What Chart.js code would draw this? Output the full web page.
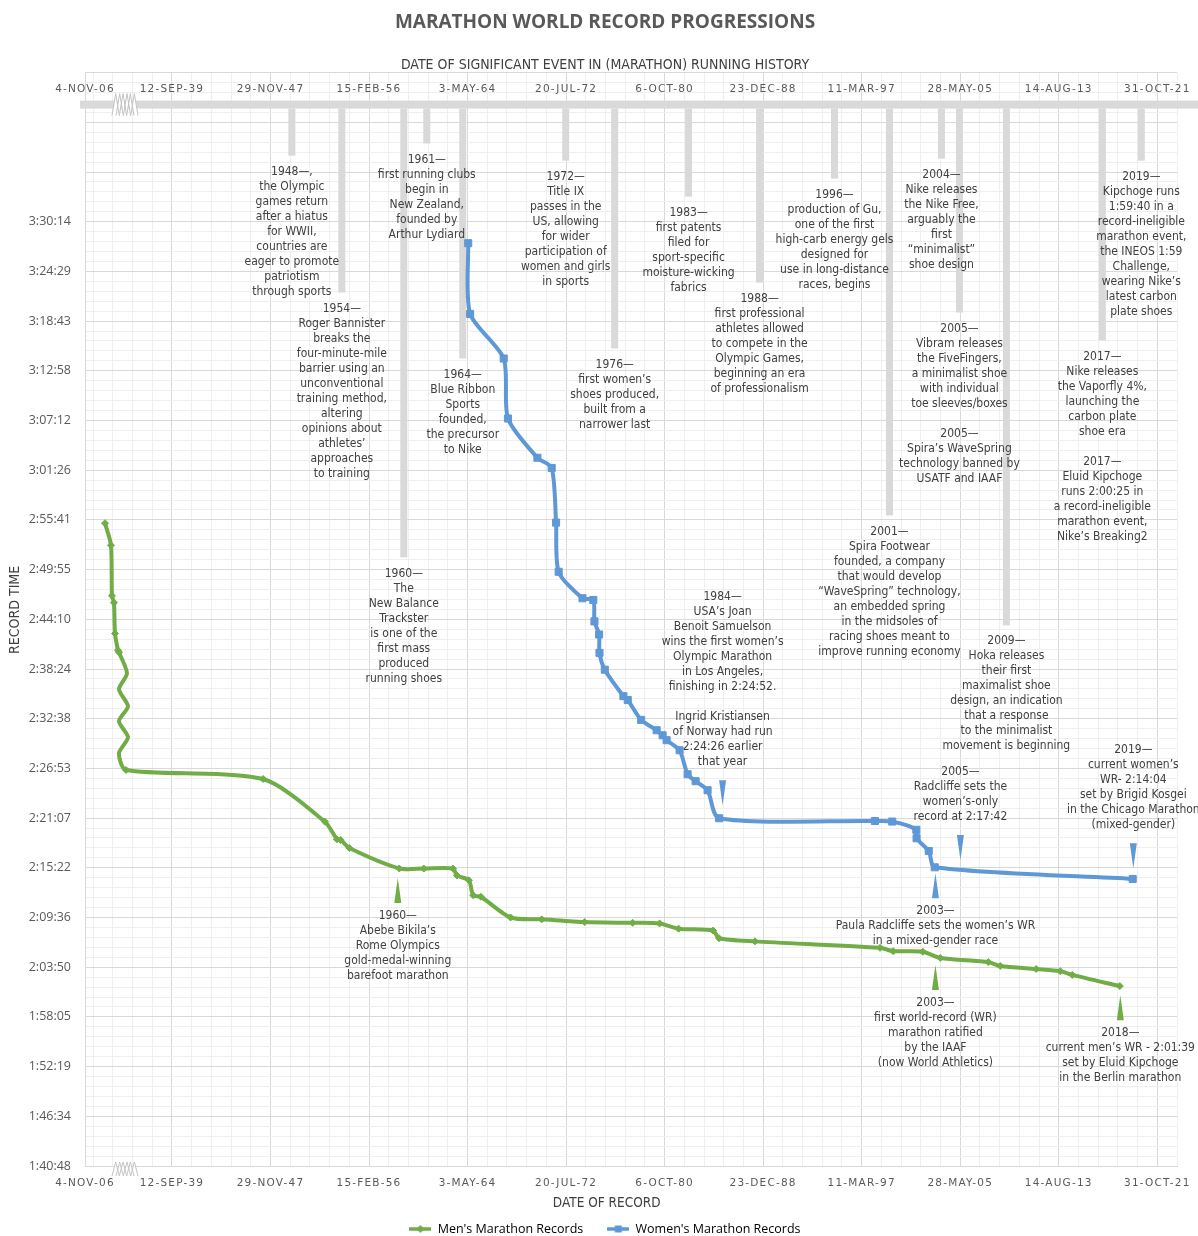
<!DOCTYPE html>
<html>
<head>
<meta charset="utf-8">
<title>Marathon World Record Progressions</title>
<script src="https://cdn.jsdelivr.net/npm/chart.js@4.4.1/dist/chart.umd.min.js"></script>
<style>
  html, body { margin: 0; padding: 0; background: #fff; }
  #wrap { width: 1198px; height: 1236px; }
</style>
</head>
<body>
<div id="wrap"><canvas id="recordChart" width="1198" height="1236"></canvas></div>
<script>
// x values are Excel date serials (14500 = 12-Sep-39, one major step = 3000 days).
// The stretch before 1939 sits on a broken axis, so those are axis serials.
var xTickValues = [11853, 14500, 17500, 20500, 23500, 26500, 29500, 32500, 35500, 38500, 41500, 44500];
var xTickLabels = ['4-NOV-06', '12-SEP-39', '29-NOV-47', '15-FEB-56', '3-MAY-64', '20-JUL-72',
                   '6-OCT-80', '23-DEC-88', '11-MAR-97', '28-MAY-05', '14-AUG-13', '31-OCT-21'];

// y axis: 0.070 day to 0.158 day in steps of 0.004 day (labels stop at 3:30:14)
var yTickLabels = ['1:40:48', '1:46:34', '1:52:19', '1:58:05', '2:03:50', '2:09:36', '2:15:22',
                   '2:21:07', '2:26:53', '2:32:38', '2:38:24', '2:44:10', '2:49:55', '2:55:41',
                   '3:01:26', '3:07:12', '3:12:58', '3:18:43', '3:24:29', '3:30:14'];

var menDates = [12462, 12644, 12674, 12735, 12766, 12857, 12887, 13131, 12887, 13161, 12887, 13161,
                12887, 13100, 17276, 19159, 19523, 19636, 19901, 21421, 22169, 23059, 23177, 23541,
                23671, 23905, 24809, 25758, 27066, 28526, 29348, 29926, 30976, 31157, 32250, 36058,
                36457, 37360, 37892, 39355, 39719, 40811, 41546, 41910, 43359];
var menTimes = ['2:55:18', '2:52:45', '2:46:53', '2:46:05', '2:42:31', '2:40:34', '2:40:20', '2:37:54',
                '2:36:03', '2:34:05', '2:32:21', '2:30:29', '2:28:38', '2:26:42', '2:25:39', '2:20:42',
                '2:18:40', '2:18:35', '2:17:39', '2:15:17', '2:15:16', '2:15:16', '2:14:28', '2:13:55',
                '2:12:11', '2:12:00', '2:09:36', '2:09:23', '2:09:04', '2:08:59', '2:08:55', '2:08:18',
                '2:08:05', '2:07:12', '2:06:50', '2:06:05', '2:05:42', '2:05:38', '2:04:55', '2:04:26',
                '2:03:59', '2:03:38', '2:03:23', '2:02:57', '2:01:39'];

var womenDates = [23520, 23579, 24601, 24731, 25627, 26062, 26195, 26274, 27000, 27329, 27364, 27505,
                  27517, 27679, 28246, 28378, 28785, 29257, 29439, 29561, 29956, 30200, 30443, 30808,
                  31158, 35904, 36429, 37164, 37171, 37542, 37724, 43751];
var womenTimes = ['3:27:45', '3:19:33', '3:14:23', '3:07:26', '3:02:53', '3:01:42', '2:55:22', '2:49:40',
                  '2:46:36', '2:46:24', '2:43:55', '2:42:24', '2:40:16', '2:38:19', '2:35:15', '2:34:48',
                  '2:32:30', '2:31:18', '2:30:43', '2:30:09', '2:28:59', '2:26:12', '2:25:24', '2:24:21',
                  '2:21:06', '2:20:47', '2:20:43', '2:19:46', '2:18:47', '2:17:18', '2:15:25', '2:14:04'];

// running-history timeline: date, where the hanging bar stops (on the time scale), text
var eventDates = [18151, 19672, 21559, 22259, 23354, 26488, 27979, 30230, 32391, 34672, 36346,
                  37928, 38476, 39906, 42827, 44013];
var eventEnds = ['3:37:54', '3:22:02', '2:51:20', '3:39:18', '3:14:23', '3:37:19', '3:15:33', '3:33:09',
                 '3:23:11', '3:35:14', '2:56:12', '3:37:33', '3:19:43', '2:43:28', '3:16:29', '3:37:19'];
var eventNotes = [
  ['1948\u2014,', 'the Olympic', 'games return', 'after a hiatus', 'for WWII,', 'countries are',
   'eager to promote', 'patriotism', 'through sports'],
  ['1954\u2014', 'Roger Bannister', 'breaks the', 'four-minute-mile', 'barrier using an', 'unconventional',
   'training method,', 'altering', 'opinions about', 'athletes\u2019', 'approaches', 'to training'],
  ['1960\u2014', 'The', 'New Balance', 'Trackster', 'is one of the', 'first mass', 'produced', 'running shoes'],
  ['1961\u2014', 'first running clubs', 'begin in', 'New Zealand,', 'founded by', 'Arthur Lydiard'],
  ['1964\u2014', 'Blue Ribbon', 'Sports', 'founded,', 'the precursor', 'to Nike'],
  ['1972\u2014', 'Title IX', 'passes in the', 'US, allowing', 'for wider', 'participation of',
   'women and girls', 'in sports'],
  ['1976\u2014', 'first women\u2019s', 'shoes produced,', 'built from a', 'narrower last'],
  ['1983\u2014', 'first patents', 'filed for', 'sport-specific', 'moisture-wicking', 'fabrics'],
  ['1988\u2014', 'first professional', 'athletes allowed', 'to compete in the', 'Olympic Games,',
   'beginning an era', 'of professionalism'],
  ['1996\u2014', 'production of Gu,', 'one of the first', 'high-carb energy gels', 'designed for',
   'use in long-distance', 'races, begins'],
  ['2001\u2014', 'Spira Footwear', 'founded, a company', 'that would develop', '\u201cWaveSpring\u201d technology,',
   'an embedded spring', 'in the midsoles of', 'racing shoes meant to', 'improve running economy'],
  ['2004\u2014', 'Nike releases', 'the Nike Free,', 'arguably the', 'first', '\u201cminimalist\u201d', 'shoe design'],
  ['2005\u2014', 'Vibram releases', 'the FiveFingers,', 'a minimalist shoe', 'with individual',
   'toe sleeves/boxes', '', '2005\u2014', 'Spira\u2019s WaveSpring', 'technology banned by', 'USATF and IAAF'],
  ['2009\u2014', 'Hoka releases', 'their first', 'maximalist shoe', 'design, an indication',
   'that a response', 'to the minimalist', 'movement is beginning'],
  ['2017\u2014', 'Nike releases', 'the Vaporfly 4%,', 'launching the', 'carbon plate', 'shoe era', '',
   '2017\u2014', 'Eluid Kipchoge', 'runs 2:00:25 in', 'a record-ineligible', 'marathon event,', 'Nike\u2019s Breaking2'],
  ['2019\u2014', 'Kipchoge runs', '1:59:40 in a', 'record-ineligible', 'marathon event,', 'the INEOS 1:59',
   'Challenge,', 'wearing Nike\u2019s', 'latest carbon', 'plate shoes']
];

// callouts on the record lines: tip of the pointer, series, pointer direction, text
var calloutDates = [21376, 31265, 37745, 38506, 43770, 37745, 43374];
var calloutTimes = ['2:14:10', '2:22:37', '2:14:44', '2:16:15', '2:15:19', '2:04:05', '2:00:36'];
var calloutSeries = ['men', 'women', 'women', 'women', 'women', 'men', 'men'];
var calloutPointer = ['up', 'down', 'up', 'down', 'down', 'up', 'up'];
var calloutNotes = [
  ['1960\u2014', 'Abebe Bikila\u2019s', 'Rome Olympics', 'gold-medal-winning', 'barefoot marathon'],
  ['1984\u2014', 'USA\u2019s Joan', 'Benoit Samuelson', 'wins the first women\u2019s', 'Olympic Marathon',
   'in Los Angeles,', 'finishing in 2:24:52.', '', 'Ingrid Kristiansen', 'of Norway had run',
   '2:24:26 earlier', 'that year'],
  ['2003\u2014', 'Paula Radcliffe sets the women\u2019s WR', 'in a mixed-gender race'],
  ['2005\u2014', 'Radcliffe sets the', 'women\u2019s-only', 'record at 2:17:42'],
  ['2019\u2014', 'current women\u2019s', 'WR- 2:14:04', 'set by Brigid Kosgei', 'in the Chicago Marathon',
   '(mixed-gender)'],
  ['2003\u2014', 'first world-record (WR)', 'marathon ratified', 'by the IAAF', '(now World Athletics)'],
  ['2018\u2014', 'current men\u2019s WR - 2:01:39', 'set by Eluid Kipchoge', 'in the Berlin marathon']
];

var axisBreakAt = 13010;

var INK = '#595959';
var NOTE_INK = '#404040';
var GREEN = '#70ad47';
var BLUE = '#5f98d6';
var NARROW = '"Liberation Sans Narrow", "Arial Narrow", "DejaVu Sans Condensed", Roboto, sans-serif';
var DAY = 86400;
var yMin = 0.070 * DAY, yMax = 0.158 * DAY, yStep = 0.004 * DAY;
var xMin = 11853, xMax = 45100;

function toSec(t) {
  var p = t.split(':');
  return (+p[0]) * 3600 + (+p[1]) * 60 + (+p[2]);
}

function points(dates, times) {
  return dates.map(function (d, i) { return { x: d, y: toSec(times[i]) }; });
}

var yTickValues = [];
for (var k = 0; yMin + k * yStep <= yMax + 1; k++) yTickValues.push(yMin + k * yStep);

function minorTicks(from, to, step, majors) {
  var out = [];
  var start = majors[1] - Math.floor((majors[1] - from) / step) * step;
  for (var v = start; v <= to + 0.01; v += step) {
    var onMajor = majors.some(function (m) { return Math.abs(m - v) < 1; });
    if (!onMajor) out.push({ value: v });
  }
  return out;
}

function drawBreak(ctx, cx, cy, h) {
  var w = 22, teeth = 3, half = w / teeth / 2;
  function zig(off) {
    var pts = [];
    for (var i = 0; i <= teeth * 2; i++) {
      pts.push([cx - w / 2 + i * half + off, i % 2 === 0 ? cy + h / 2 : cy - h / 2]);
    }
    return pts;
  }
  var a = zig(0), b = zig(4);
  ctx.save();
  ctx.beginPath();
  a.forEach(function (p, i) { if (i === 0) ctx.moveTo(p[0], p[1]); else ctx.lineTo(p[0], p[1]); });
  b.slice().reverse().forEach(function (p) { ctx.lineTo(p[0], p[1]); });
  ctx.closePath();
  ctx.fillStyle = '#ffffff';
  ctx.fill();
  ctx.strokeStyle = '#c4c4c4';
  ctx.lineWidth = 1;
  [a, b].forEach(function (line) {
    ctx.beginPath();
    line.forEach(function (p, i) { if (i === 0) ctx.moveTo(p[0], p[1]); else ctx.lineTo(p[0], p[1]); });
    ctx.stroke();
  });
  ctx.restore();
}

function calloutGeometry(chart, i) {
  var xs = chart.scales.x, ys = chart.scales.y;
  var px = xs.getPixelForValue(calloutDates[i]);
  var tip = ys.getPixelForValue(toSec(calloutTimes[i]));
  var base = calloutPointer[i] === 'up' ? tip + 25 : tip - 25;
  return { x: px, tip: tip, base: base };
}

var timelinePlugin = {
  id: 'timeline',
  beforeDatasetsDraw: function (chart) {
    var ctx = chart.ctx, area = chart.chartArea;
    var xs = chart.scales.x, ys = chart.scales.y;
    var barTop = area.top + 28;
    ctx.save();

    // timeline bar and the bars hanging from it
    ctx.fillStyle = '#d9d9d9';
    ctx.fillRect(area.left - 5, barTop, chart.width - area.left + 5, 8);
    eventDates.forEach(function (d, i) {
      var px = xs.getPixelForValue(d);
      var end = ys.getPixelForValue(toSec(eventEnds[i]));
      ctx.fillRect(px - 3.5, barTop + 8, 7, end - barTop - 8);
    });
    drawBreak(ctx, xs.getPixelForValue(axisBreakAt), barTop + 4, 22);

    // dates above the timeline bar
    ctx.fillStyle = INK;
    ctx.textAlign = 'center';
    ctx.textBaseline = 'middle';
    ctx.font = '10.5px "DejaVu Sans"';
    ctx.letterSpacing = '1.2px';
    xTickValues.forEach(function (v, i) {
      ctx.fillText(xTickLabels[i], xs.getPixelForValue(v), area.top + 17);
    });
    ctx.letterSpacing = '0px';

    // event texts
    ctx.fillStyle = NOTE_INK;
    ctx.font = '12px ' + NARROW;
    eventDates.forEach(function (d, i) {
      var px = xs.getPixelForValue(d);
      var end = ys.getPixelForValue(toSec(eventEnds[i]));
      eventNotes[i].forEach(function (line, j) {
        ctx.fillText(line, px, end + 16 + j * 15);
      });
    });

    // callout texts
    calloutNotes.forEach(function (lines, i) {
      var g = calloutGeometry(chart, i);
      var first = calloutPointer[i] === 'up' ? g.base + 13 : g.base - 18 - (lines.length - 1) * 15;
      lines.forEach(function (line, j) { ctx.fillText(line, g.x, first + j * 15); });
    });
    ctx.restore();
  },
  afterDatasetsDraw: function (chart) {
    var ctx = chart.ctx;
    ctx.save();
    calloutNotes.forEach(function (lines, i) {
      var g = calloutGeometry(chart, i);
      ctx.beginPath();
      ctx.moveTo(g.x, g.tip);
      ctx.lineTo(g.x - 3.5, g.base);
      ctx.lineTo(g.x + 3.5, g.base);
      ctx.closePath();
      ctx.fillStyle = calloutSeries[i] === 'men' ? GREEN : BLUE;
      ctx.fill();
    });
    ctx.restore();
  },
  afterDraw: function (chart) {
    drawBreak(chart.ctx, chart.scales.x.getPixelForValue(axisBreakAt), chart.chartArea.bottom + 3, 14);
  }
};

function legendIcon(color, style) {
  var c = document.createElement('canvas');
  c.width = 22; c.height = 10;
  var g = c.getContext('2d');
  g.strokeStyle = color; g.fillStyle = color; g.lineWidth = 3.5;
  g.beginPath(); g.moveTo(0, 5); g.lineTo(22, 5); g.stroke();
  g.beginPath();
  if (style === 'rectRot') {
    g.moveTo(11, 1); g.lineTo(15, 5); g.lineTo(11, 9); g.lineTo(7, 5);
  } else {
    g.rect(7.5, 1.5, 7, 7);
  }
  g.closePath(); g.fill();
  return c;
}

function patchLetterSpacing(scale, spacing) {
  if (scale._spaced) return;
  var draw = scale.drawLabels;
  scale.drawLabels = function (area) {
    this.ctx.save();
    this.ctx.letterSpacing = spacing;
    draw.call(this, area);
    this.ctx.restore();
  };
  scale._spaced = true;
}

var ctx = document.getElementById('recordChart').getContext('2d');

var recordChart = new Chart(ctx, {
  type: 'line',
  data: {
    datasets: [{
      label: "Men's Marathon Records",
      data: points(menDates, menTimes),
      borderColor: GREEN,
      backgroundColor: GREEN,
      borderWidth: 4,
      pointStyle: 'rectRot',
      pointRadius: function (c) { return c.dataIndex >= 7 && c.dataIndex <= 12 ? 0 : 3.5; },
      pointBorderWidth: 1,
      tension: 0.25
    }, {
      label: "Women's Marathon Records",
      data: points(womenDates, womenTimes),
      borderColor: BLUE,
      backgroundColor: BLUE,
      borderWidth: 4,
      pointStyle: 'rect',
      pointRadius: 5,
      pointBorderWidth: 1,
      tension: 0.25
    }]
  },
  options: {
    responsive: false,
    animation: false,
    devicePixelRatio: 1,
    events: [],
    layout: { padding: { left: 33, right: 21, top: 0, bottom: -9.25 } },
    plugins: {
      title: {
        display: true,
        text: 'MARATHON WORLD RECORD PROGRESSIONS',
        color: INK,
        font: { family: 'Open Sans', size: 19, weight: 'bold' },
        padding: { top: 11, bottom: 23 }
      },
      subtitle: {
        display: true,
        text: 'DATE OF SIGNIFICANT EVENT IN (MARATHON) RUNNING HISTORY',
        color: NOTE_INK,
        font: { family: NARROW, size: 14 },
        padding: { top: 0, bottom: -1 }
      },
      legend: {
        position: 'bottom',
        labels: {
          usePointStyle: true,
          pointStyleWidth: 22,
          padding: 24,
          color: INK,
          font: { family: 'Open Sans', size: 12.5 },
          generateLabels: function (chart) {
            return chart.data.datasets.map(function (ds, i) {
              return {
                text: ds.label,
                pointStyle: legendIcon(ds.borderColor, ds.pointStyle),
                fillStyle: ds.borderColor,
                strokeStyle: ds.borderColor,
                lineWidth: 0,
                hidden: false,
                datasetIndex: i
              };
            });
          }
        }
      },
      tooltip: { enabled: false }
    },
    scales: {
      x: {
        type: 'linear',
        min: xMin,
        max: xMax,
        afterBuildTicks: function (s) { s.ticks = xTickValues.map(function (v) { return { value: v }; }); },
        ticks: {
          autoSkip: false,
          maxRotation: 0,
          padding: 10.7,
          color: INK,
          font: { family: 'DejaVu Sans', size: 10.5 },
          callback: function (v, i) { return xTickLabels[i]; }
        },
        grid: { color: '#d9d9d9', drawTicks: false },
        border: { color: '#d9d9d9' },
        title: {
          display: true,
          text: 'DATE OF RECORD\u2003\u2003\u2003\u2003',
          color: NOTE_INK,
          font: { family: NARROW, size: 13.5 },
          padding: { top: 0, bottom: -12.4 }
        },
        afterFit: function (s) {
          s.height = 32.75; s.paddingLeft = 0; s.paddingRight = 0;
          patchLetterSpacing(s, '1.2px');
        }
      },
      xMinor: {
        type: 'linear',
        position: 'bottom',
        min: xMin,
        max: xMax,
        afterBuildTicks: function (s) { s.ticks = minorTicks(xMin, xMax, 600, xTickValues); },
        ticks: { display: false },
        grid: { color: '#efefef', drawTicks: false },
        border: { display: false },
        afterFit: function (s) { s.height = 0; s.paddingLeft = 0; s.paddingRight = 0; }
      },
      y: {
        type: 'linear',
        min: yMin,
        max: yMax,
        afterBuildTicks: function (s) { s.ticks = yTickValues.map(function (v) { return { value: v }; }); },
        ticks: {
          padding: 14,
          color: INK,
          font: { family: 'Open Sans', size: 12.5 },
          callback: function (v, i) { return yTickLabels[i] || ''; }
        },
        grid: { color: '#d9d9d9', drawTicks: false },
        border: { color: '#d9d9d9' },
        title: {
          display: true,
          text: '\u2003\u2002RECORD TIME',
          color: NOTE_INK,
          font: { family: NARROW, size: 14 },
          padding: { top: -26.4, bottom: 0 }
        },
        afterFit: function (s) {
          s.width = 52;
          // labels reach left of this narrow box; keep them unclipped
          s._computeLabelArea = function () { return null; };
        }
      },
      yMinor: {
        type: 'linear',
        position: 'left',
        min: yMin,
        max: yMax,
        afterBuildTicks: function (s) { s.ticks = minorTicks(yMin, yMax, yStep / 5, yTickValues); },
        ticks: { display: false },
        grid: { color: '#efefef', drawTicks: false },
        border: { display: false },
        afterFit: function (s) { s.width = 0; }
      }
    }
  },
  plugins: [timelinePlugin]
});
</script>
</body>
</html>
